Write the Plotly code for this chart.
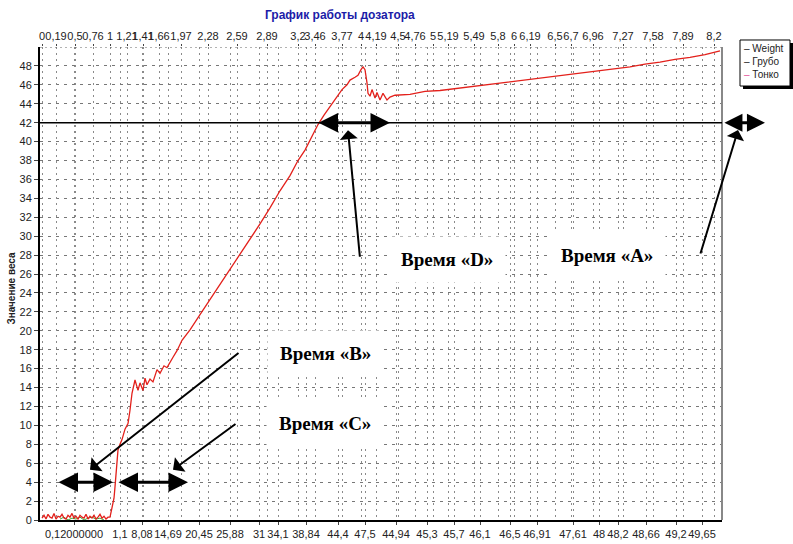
import plotly.graph_objects as go

# sample index along the category axis (one step per screen column of the original)
sample = [2, 4, 6, 8, 10, 12, 14, 16, 18, 20, 22, 24, 26, 28, 30, 32, 34, 36, 38, 40,
          42, 44, 46, 48, 50, 52, 54, 56, 58, 60, 62, 64, 66, 68, 70,
          72, 74, 75, 77, 78, 80, 82, 85, 88, 90, 92, 95, 98, 100, 103, 105, 107, 110,
          113, 117, 120, 124, 127, 133, 137, 142, 150, 160, 170, 180, 190, 200, 210,
          220, 230, 240, 250, 258, 265, 272, 278, 284, 290, 296, 302, 307, 310, 315,
          318, 321, 323, 325, 326, 327, 328, 330, 332, 335, 337, 340, 343, 347, 350,
          355, 370, 385, 400, 415, 430, 445, 460, 473, 490, 505, 520, 535, 550, 565,
          573, 590, 605, 620, 635, 650, 665, 680]
weight = [0.2, 0.5, 0.1, 0.6, 0.3, 0.2, 0.7, 0.1, 0.4, 0.3, 0.6, 0.2, 0.1, 0.5, 0.3,
          0.7, 0.2, 0.4, 0.1, 0.5, 0.3, 0.2, 0.6, 0.1, 0.4, 0.2, 0.5, 0.1, 0.3, 0.6,
          0.2, 0.4, 0.1, 0.3, 0.3,
          1.4, 2.3, 3.5, 6.7, 7.4, 8.0, 8.5, 9.6, 10.2, 11.6, 13.4, 14.8, 13.7, 14.5,
          13.7, 15.0, 14.3, 14.9, 14.6, 15.9, 15.5, 16.3, 16.1, 17.2, 17.9, 19.0, 20.1,
          21.7, 23.3, 24.8, 26.5, 28.0, 29.7, 31.3, 33.0, 34.8, 36.4, 38.0, 39.1, 40.6,
          41.8, 42.8, 43.7, 44.7, 45.5, 46.0, 46.5, 46.8, 47.0, 47.6, 47.9, 47.6, 47.0,
          46.2, 45.1, 44.8, 45.5, 44.6, 45.2, 44.4, 45.1, 44.4, 44.7,
          44.9, 45.0, 45.3, 45.4, 45.6, 45.8, 46.0, 46.2, 46.4, 46.6, 46.8, 47.0, 47.2,
          47.4, 47.6, 47.7, 47.9, 48.2, 48.4, 48.7, 48.9, 49.2, 49.6]

# second, near-zero series
green_sample = [20, 24, 28, 32, 36, 40, 44, 48, 52, 56, 60, 64]
green_weight = [0.1, 0.3, 0.0, 0.2, 0.1, 0.3, 0.0, 0.2, 0.3, 0.1, 0.2, 0.0]

# top axis: time labels
top_pos = [2, 16, 35, 53, 70, 87, 103, 119, 141, 168, 197, 227, 258, 275, 302, 321,
           336, 358, 375, 393, 408, 434, 458, 474, 490, 515, 531, 553, 583, 613, 643, 674]
top_text = ["0", "0,19", "0,5", "0,76", "1", "1,21", "1,41", "1,66", "1,97", "2,28",
            "2,59", "2,89", "3,2", "3,46", "3,77", "4", "4,19", "4,5", "4,76", "5",
            "5,19", "5,49", "5,8", "6", "6,19", "6,5", "6,7", "6,96", "7,27", "7,58",
            "7,89", "8,2"]

# bottom axis: weight labels
bot_pos = [34, 80, 102, 128, 159, 190, 219, 238, 266, 298, 325, 356, 387, 414, 440,
           470, 497, 533, 559, 578, 606, 636, 662]
bot_text = ["0,12000000", "1,1", "8,08", "14,69", "20,45", "25,88", "31", "34,1",
            "38,84", "44,4", "47,5", "44,94", "45,3", "45,7", "46,1", "46,5", "46,91",
            "47,61", "48", "48,2", "48,66", "49,2", "49,65"]

y_ticks = list(range(0, 50, 2))
level = 42

fig = go.Figure()
fig.add_trace(go.Scatter(x=green_sample, y=green_weight, mode="lines",
                         line=dict(color="#3aa83a", width=1), showlegend=False))
fig.add_trace(go.Scatter(x=sample, y=weight, mode="lines",
                         line=dict(color="#e3201b", width=1.3), showlegend=False))
fig.add_trace(go.Scatter(x=[None], y=[None], xaxis="x2", showlegend=False))

tickfont = dict(family="Liberation Sans", size=11, color="#222")
fig.update_layout(
    width=793, height=544,
    margin=dict(l=40, r=71, t=47, b=24),
    paper_bgcolor="white", plot_bgcolor="white",
    xaxis=dict(range=[0, 682], tickmode="array", tickvals=bot_pos, ticktext=bot_text,
               tickangle=0, tickfont=tickfont, ticks="outside", ticklen=3,
               showline=True, linecolor="black", linewidth=2, automargin=False,
               showgrid=True, gridcolor="#8a8a8a", griddash="2px,4px", gridwidth=1,
               zeroline=False),
    xaxis2=dict(range=[0, 682], overlaying="x", side="top", tickmode="array",
                tickvals=top_pos, ticktext=top_text, tickangle=0, tickfont=tickfont,
                ticks="outside", ticklen=2, showgrid=True, gridcolor="#8a8a8a",
                griddash="2px,4px", gridwidth=1, zeroline=False, showline=False,
                automargin=False),
    yaxis=dict(range=[0, 50], tickmode="array", tickvals=y_ticks, tickfont=tickfont,
               ticks="outside", ticklen=4, showline=True, linecolor="black",
               linewidth=2, showgrid=True, gridcolor="#777", griddash="3px,5px",
               gridwidth=1, zeroline=False, automargin=False),
)

# y axis title
fig.add_annotation(text="<b>Значение веса</b>", xref="paper", yref="paper",
                   x=-0.042, y=0.49, xanchor="center", yanchor="middle",
                   textangle=-90, showarrow=False,
                   font=dict(family="Liberation Sans", size=10, color="#222"))

# top border, right border and the 42 level line
fig.add_shape(type="line", xref="paper", yref="y", x0=0, x1=1, y0=50, y1=50,
              line=dict(color="#666", width=1, dash="2px,3px"))
fig.add_shape(type="line", xref="paper", yref="paper", x0=1, x1=1, y0=0, y1=1,
              line=dict(color="#888", width=2))
fig.add_shape(type="line", xref="paper", yref="y", x0=0, x1=1, y0=level, y1=level,
              line=dict(color="black", width=1.5))

# title
fig.add_annotation(text="<b>График работы дозатора</b>", xref="paper", yref="paper",
                   x=0.44, y=1.0677, xanchor="center", yanchor="middle", showarrow=False,
                   font=dict(family="Liberation Sans", size=12, color="#1c1ca8"))

# legend box: shadow, frame, text
fig.add_shape(type="rect", xref="paper", yref="paper", x0=1.0308, x1=1.1041,
              y0=0.9112, y1=1.0085, fillcolor="black", line=dict(width=0))
fig.add_shape(type="rect", xref="paper", yref="paper", x0=1.0264, x1=1.0997,
              y0=0.9175, y1=1.0148, fillcolor="white", line=dict(color="black", width=1))
legend_txt = ("– Weight<br>– Грубо<br><span style='color:#e4539a'>–</span> Тонко")
fig.add_annotation(text=legend_txt, xref="paper", yref="paper", x=1.0293, y=1.0127,
                   xanchor="left", yanchor="top", align="left", showarrow=False,
                   font=dict(family="Liberation Sans", size=10, color="#222"))

arrow = dict(showarrow=True, arrowcolor="black", text="")

# double arrows (head and tail in data coordinates)
for x0, x1, yv in [(277, 350, level), (17, 73, 4), (77, 148, 4)]:
    fig.add_annotation(x=x1, y=yv, ax=x0, ay=yv, axref="x", ayref="y",
                       arrowhead=2, arrowside="end+start", arrowwidth=3, arrowsize=1.3,
                       **arrow)
# double arrow right of the plot
fig.add_annotation(x=1.063, y=level, xref="paper", yref="y", ax=-42, ay=0,
                   arrowhead=2, arrowside="end+start", arrowwidth=3, arrowsize=1.2, **arrow)

# pointer arrows: head position, tail offset in pixels
fig.add_annotation(x=308, y=41.2, ax=12, ay=128, arrowhead=1, arrowwidth=2,
                   arrowsize=1.5, **arrow)
fig.add_annotation(x=1.0235, y=0.8245, xref="paper", yref="paper", ax=-38, ay=125,
                   arrowhead=1, arrowwidth=2, arrowsize=1.5, **arrow)
fig.add_annotation(x=50, y=5.3, ax=150, ay=-118, arrowhead=1, arrowwidth=2,
                   arrowsize=1.5, **arrow)
fig.add_annotation(x=133, y=5.3, ax=64, ay=-47, arrowhead=1, arrowwidth=2,
                   arrowsize=1.5, **arrow)

# labels in white boxes
labels = ["Время «D»", "Время «A»", "Время «B»", "Время «C»"]
label_x = [407, 567, 285, 285]
label_y = [27.5, 28.0, 17.6, 10.2]
for txt, lx, ly in zip(labels, label_x, label_y):
    fig.add_annotation(text="<b>" + txt + "</b>", x=lx, y=ly, showarrow=False,
                       bgcolor="white", borderpad=12,
                       font=dict(family="Liberation Serif", size=19, color="black"))

# the page body has a default 8px margin; drop it so the figure fills the window
fig.write_html("out.html", config={"displayModeBar": False},
               post_script="document.body.style.margin = '0';")
